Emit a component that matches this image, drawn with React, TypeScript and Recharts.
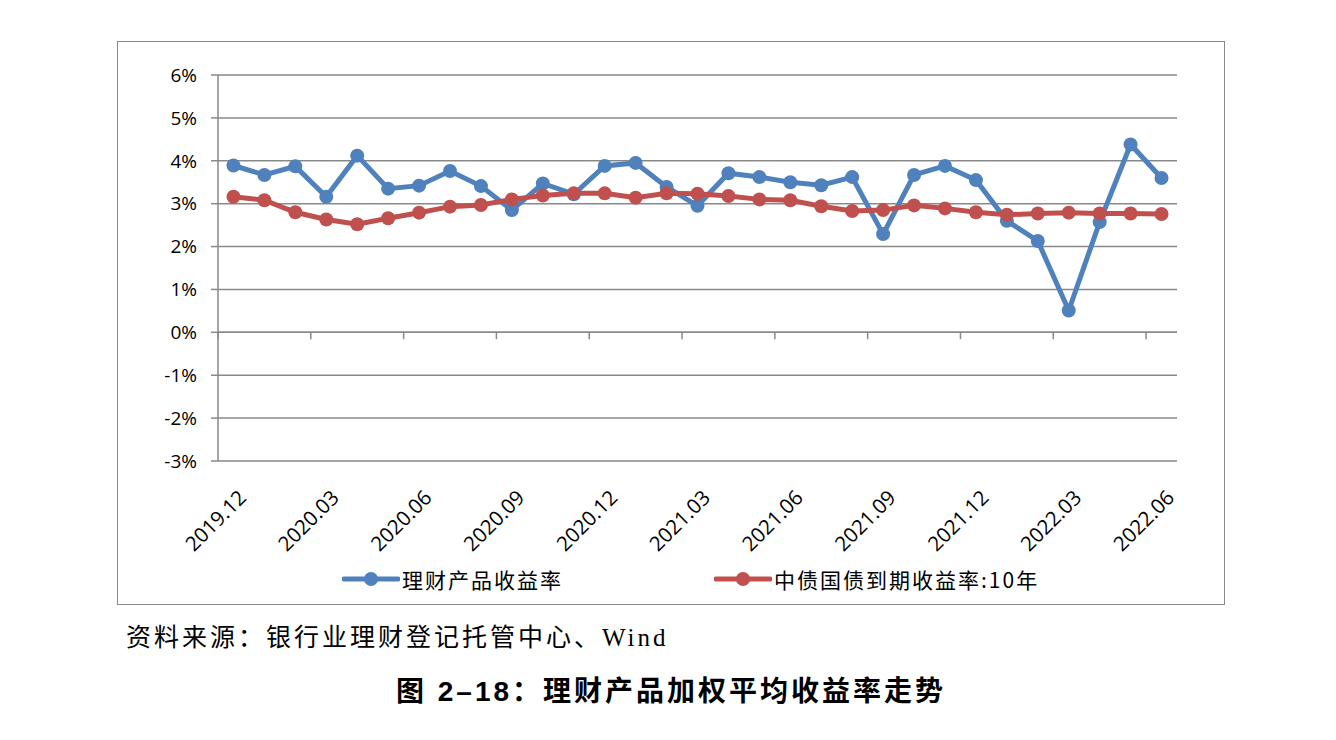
import React from 'react';
import { LineChart, Line, XAxis, YAxis, CartesianGrid, ReferenceLine } from 'recharts';

const months = [
  '2019.12',
  '2020.01', '2020.02', '2020.03', '2020.04', '2020.05', '2020.06',
  '2020.07', '2020.08', '2020.09', '2020.10', '2020.11', '2020.12',
  '2021.01', '2021.02', '2021.03', '2021.04', '2021.05', '2021.06',
  '2021.07', '2021.08', '2021.09', '2021.10', '2021.11', '2021.12',
  '2022.01', '2022.02', '2022.03', '2022.04', '2022.05', '2022.06',
];

// 理财产品收益率 (%)
const wealthYield = [
  3.89, 3.67, 3.87, 3.16, 4.12, 3.35, 3.42, 3.76, 3.41, 2.85, 3.47, 3.22, 3.88,
  3.95, 3.39, 2.95, 3.71, 3.62, 3.50, 3.43, 3.62, 2.29, 3.67, 3.88, 3.55,
  2.60, 2.13, 0.51, 2.57, 4.38, 3.60,
];

// 中债国债到期收益率:10年 (%)
const bondYield = [
  3.16, 3.08, 2.80, 2.63, 2.52, 2.66, 2.79, 2.93, 2.97, 3.10, 3.19, 3.24, 3.24,
  3.14, 3.24, 3.23, 3.18, 3.10, 3.08, 2.94, 2.83, 2.85, 2.96, 2.89, 2.80,
  2.74, 2.77, 2.79, 2.77, 2.77, 2.76,
];

const yTicks = [-3, -2, -1, 0, 1, 2, 3, 4, 5, 6];
const labelIdx = [0, 3, 6, 9, 12, 15, 18, 21, 24, 27, 30];

const BLUE = '#4f81bd';
const RED = '#c0504d';
const GRID = '#898989';

const data = months.map((m, i) => ({ i, m, wealth: wealthYield[i], bond: bondYield[i] }));

const XTick = (props: any) => {
  const { x, y, payload } = props;
  return (
    <text
      transform={`translate(${x + 14},${y + 38}) rotate(-45)`}
      textAnchor="end"
      fontSize={20.5}
      fontFamily="'Open Sans', sans-serif"
      fill="#000"
    >
      {months[payload.value]}
    </text>
  );
};

const LegendItem = ({ color, label, left }: { color: string; label: string; left: number }) => (
  <div style={{ position: 'absolute', left, top: 565, display: 'flex', alignItems: 'center', height: 28 }}>
    <svg width={58} height={20} style={{ display: 'block' }}>
      <line x1={2} y1={10} x2={56} y2={10} stroke={color} strokeWidth={5} strokeLinecap="round" />
      <circle cx={29} cy={10} r={7} fill={color} />
    </svg>
    <span
      style={{
        marginLeft: 2,
        fontSize: 21,
        letterSpacing: 2,
        fontFamily: "'Noto Sans CJK SC', sans-serif",
        color: '#000',
        whiteSpace: 'nowrap',
      }}
    >
      {label}
    </span>
  </div>
);

export default function App() {
  return (
    <div style={{ position: 'absolute', left: 0, top: 0, width: 1336, height: 740, background: '#fff' }}>
      <div
        style={{
          position: 'absolute',
          left: 117,
          top: 41,
          width: 1106,
          height: 562,
          border: `1.5px solid ${GRID}`,
        }}
      />
      <div style={{ position: 'absolute', left: 118, top: 42 }}>
        <LineChart
          width={1107}
          height={563}
          data={data}
          margin={{ top: 33, right: 48, bottom: 0, left: 30 }}
        >
          <CartesianGrid vertical={false} stroke={GRID} strokeWidth={1.5} />
          <XAxis
            dataKey="i"
            type="number"
            domain={[-0.5, 30.5]}
            ticks={labelIdx}
            interval={0}
            axisLine={false}
            tickLine={false}
            tickSize={0}
            tickMargin={0}
            height={144}
            tick={<XTick />}
          />
          <YAxis
            domain={[-3, 6]}
            ticks={yTicks}
            interval={0}
            width={70}
            axisLine={{ stroke: GRID, strokeWidth: 1.5 }}
            tickLine={{ stroke: GRID, strokeWidth: 1.5 }}
            tickSize={7}
            tickMargin={14}
            tickFormatter={(v: number) => `${v}%`}
            tick={{ fontSize: 19, fill: '#000', fontFamily: "'Open Sans', sans-serif" }}
          />
          <ReferenceLine y={0} stroke={GRID} strokeWidth={1.5} />
          {labelIdx.map((k) => (
            <ReferenceLine
              key={k}
              segment={[
                { x: k - 0.5, y: 0 },
                { x: k - 0.5, y: -0.16 },
              ]}
              stroke={GRID}
              strokeWidth={1.5}
            />
          ))}
          <Line
            dataKey="wealth"
            stroke={BLUE}
            strokeWidth={5}
            dot={{ r: 7, fill: BLUE, stroke: BLUE, strokeWidth: 0 }}
            activeDot={false}
            isAnimationActive={false}
          />
          <Line
            dataKey="bond"
            stroke={RED}
            strokeWidth={5}
            dot={{ r: 7, fill: RED, stroke: RED, strokeWidth: 0 }}
            activeDot={false}
            isAnimationActive={false}
          />
        </LineChart>
      </div>
      <LegendItem color={BLUE} label="理财产品收益率" left={342} />
      <LegendItem color={RED} label="中债国债到期收益率:10年" left={714} />
      <div
        style={{
          position: 'absolute',
          left: 126,
          top: 617,
          fontSize: 25,
          letterSpacing: 3,
          fontFamily: "'Liberation Serif', 'Noto Sans CJK SC', serif",
          color: '#000',
          whiteSpace: 'nowrap',
        }}
      >
        资料来源：银行业理财登记托管中心、Wind
      </div>
      <div
        style={{
          position: 'absolute',
          left: 0,
          width: 1342,
          top: 669,
          textAlign: 'center',
          fontSize: 28,
          fontWeight: 'bold',
          letterSpacing: 3,
          fontFamily: "'Liberation Sans', 'Noto Sans CJK SC', sans-serif",
          color: '#000',
          whiteSpace: 'nowrap',
        }}
      >
        图 2–18：理财产品加权平均收益率走势
      </div>
    </div>
  );
}
